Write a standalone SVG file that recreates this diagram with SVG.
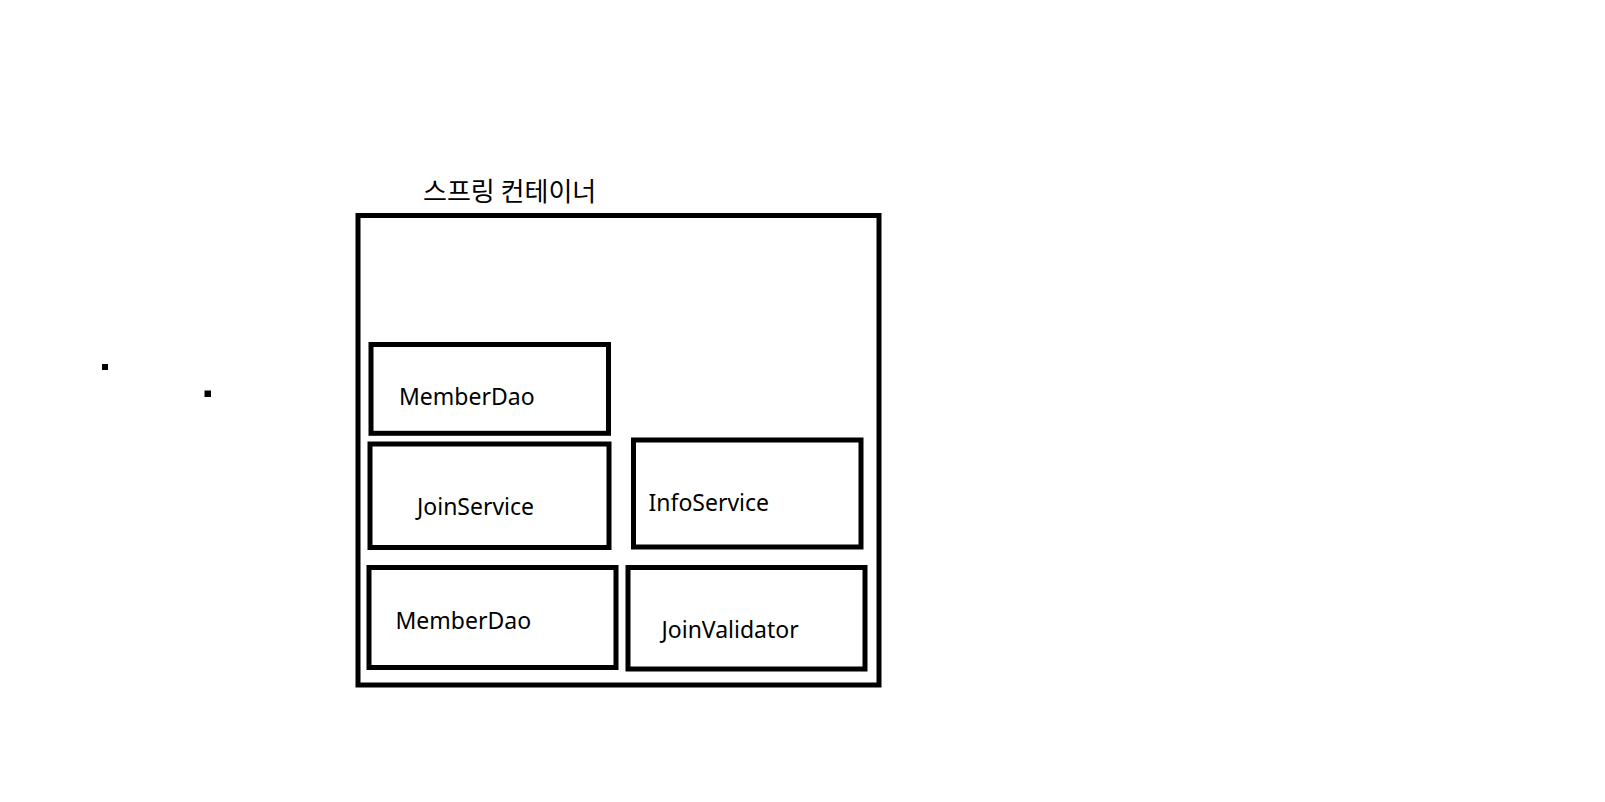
<svg xmlns="http://www.w3.org/2000/svg" width="1605" height="802" viewBox="0 0 1605 802">
<style>
.box{fill:none;stroke:#000;stroke-width:5}
.lbl{font-family:"Noto Sans","Liberation Sans",sans-serif;font-size:23px;fill:#000}
.title{font-family:"Noto Sans CJK KR","Noto Sans",sans-serif;font-size:26px;fill:#000}
</style>
<rect width="1605" height="802" fill="#fff"/>
<g id="dots">
<rect x="102" y="364" width="6" height="6" fill="#000"/>
<rect x="204.5" y="390.5" width="6.5" height="6.5" fill="#000"/>
</g>
<g id="container">
<rect class="box" x="358" y="215.5" width="521" height="469.5"/>
<text class="title" x="423" y="201">스프링 컨테이너</text>
</g>
<g id="memberDao1">
<rect class="box" x="371" y="344.5" width="237.5" height="88.8"/>
<text class="lbl" x="399" y="405">MemberDao</text>
</g>
<g id="joinService">
<rect class="box" x="370" y="444" width="239" height="103.5"/>
<text class="lbl" x="417" y="515">JoinService</text>
</g>
<g id="infoService">
<rect class="box" x="633.5" y="440" width="227.5" height="107"/>
<text class="lbl" x="648.5" y="511">InfoService</text>
</g>
<g id="memberDao2">
<rect class="box" x="369" y="567.5" width="247" height="100"/>
<text class="lbl" x="395.5" y="629">MemberDao</text>
</g>
<g id="joinValidator">
<rect class="box" x="628" y="567.5" width="237" height="101.5"/>
<text class="lbl" x="661.5" y="638">JoinValidator</text>
</g>
<g id="connectors"></g>
</svg>
